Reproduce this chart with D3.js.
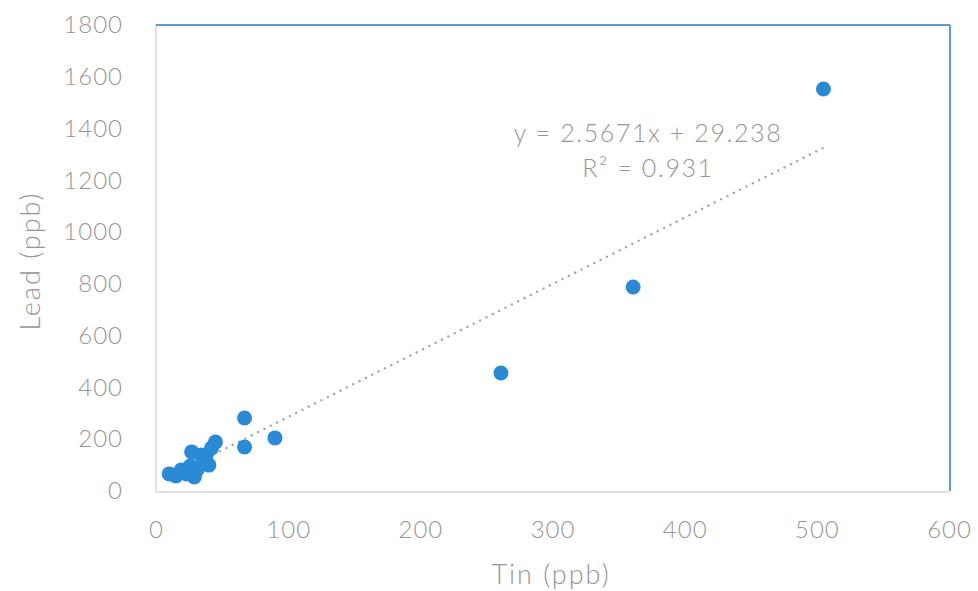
<!DOCTYPE html>
<html><head><meta charset="utf-8">
<script src="https://cdn.jsdelivr.net/npm/d3@7"></script>
<style>
html,body{margin:0;padding:0;background:#fff;}
svg{display:block;}
text{font-family:Lato,"Liberation Sans",sans-serif;fill:#969696;font-weight:300;}
</style></head>
<body><svg id="c" width="978" height="591"></svg>
<script>
const tinValues  = [10, 15, 19, 23, 26, 27, 29, 31, 34, 36, 38, 40, 42, 45, 67, 67, 90, 261, 361, 505];
const leadValues = [66, 58, 81, 66, 97, 151, 54, 81, 139, 112, 139, 100, 166, 189, 282, 170, 205, 456, 788, 1553];
const xTicks = [0, 100, 200, 300, 400, 500, 600];
const yTicks = [0, 200, 400, 600, 800, 1000, 1200, 1400, 1600, 1800];
const slope = 2.5671, intercept = 29.238;
const eqLabel = "y = 2.5671x + 29.238";
const r2Label = "R² = 0.931";
const xTitle = "Tin (ppb)", yTitle = "Lead (ppb)";

const svg = d3.select("#c");
const L = 156, R = 949, T = 25, B = 491;
const x = d3.scaleLinear().domain([0, 600]).range([L, R]);
const y = d3.scaleLinear().domain([0, 1800]).range([B, T]);

// frame
svg.append("line").attr("x1", L).attr("x2", L).attr("y1", T).attr("y2", B+1).attr("stroke", "#d6d6d6").attr("stroke-width", 1.5);
svg.append("line").attr("x1", L).attr("x2", R).attr("y1", B+1).attr("y2", B+1).attr("stroke", "#d6d6d6").attr("stroke-width", 1.5);
svg.append("line").attr("x1", L).attr("x2", R+1).attr("y1", T).attr("y2", T).attr("stroke", "#5b9bd5").attr("stroke-width", 2);
svg.append("line").attr("x1", R+1).attr("x2", R+1).attr("y1", T).attr("y2", B).attr("stroke", "#5b9bd5").attr("stroke-width", 2);

const fmt = d3.format("d");
// axes
const xAxis = svg.append("g").attr("transform", `translate(0,${B})`)
  .call(d3.axisBottom(x).tickValues(xTicks).tickFormat(fmt).tickSize(0).tickPadding(30));
xAxis.select(".domain").remove();
xAxis.selectAll("text").style("font-size", "24px").style("letter-spacing", "1px").attr("fill", "#969696").style("font-family", "Lato, sans-serif").style("font-weight", 300);

const yAxis = svg.append("g").attr("transform", `translate(${L},0)`)
  .call(d3.axisLeft(y).tickValues(yTicks).tickFormat(fmt).tickSize(0).tickPadding(33));
yAxis.select(".domain").remove();
yAxis.selectAll("text").style("font-size", "24px").style("letter-spacing", "1px").attr("fill", "#969696").style("font-family", "Lato, sans-serif").style("font-weight", 300);

// trendline
const xmin = d3.min(tinValues), xmax = d3.max(tinValues);
svg.append("line")
  .attr("x1", x(xmin)).attr("y1", y(slope*xmin+intercept))
  .attr("x2", x(xmax)).attr("y2", y(slope*xmax+intercept))
  .attr("stroke", "#a6a6a6").attr("stroke-width", 2.4)
  .attr("stroke-dasharray", "0.1,7").attr("stroke-linecap", "round");

// points
svg.append("g").selectAll("circle").data(tinValues.map((t,i)=>[t, leadValues[i]]))
  .join("circle")
  .attr("cx", d=>x(d[0])).attr("cy", d=>y(d[1])).attr("r", 7.5)
  .attr("fill", "#2a8ad6");

// equation
svg.append("text").attr("x", 648).attr("y", 142).attr("text-anchor", "middle").style("font-size", "25px").style("letter-spacing", "1.6px").text(eqLabel);
svg.append("text").attr("x", 648).attr("y", 177).attr("text-anchor", "middle").style("font-size", "25px").style("letter-spacing", "1.6px").text(r2Label);

// titles
svg.append("text").attr("x", 551).attr("y", 584).attr("text-anchor", "middle").style("font-size", "27px").style("letter-spacing", "2px").text(xTitle);
svg.append("text").attr("transform", "translate(40,261) rotate(-90)").attr("text-anchor", "middle").style("font-size", "27px").style("letter-spacing", "2px").text(yTitle);
</script></body></html>
